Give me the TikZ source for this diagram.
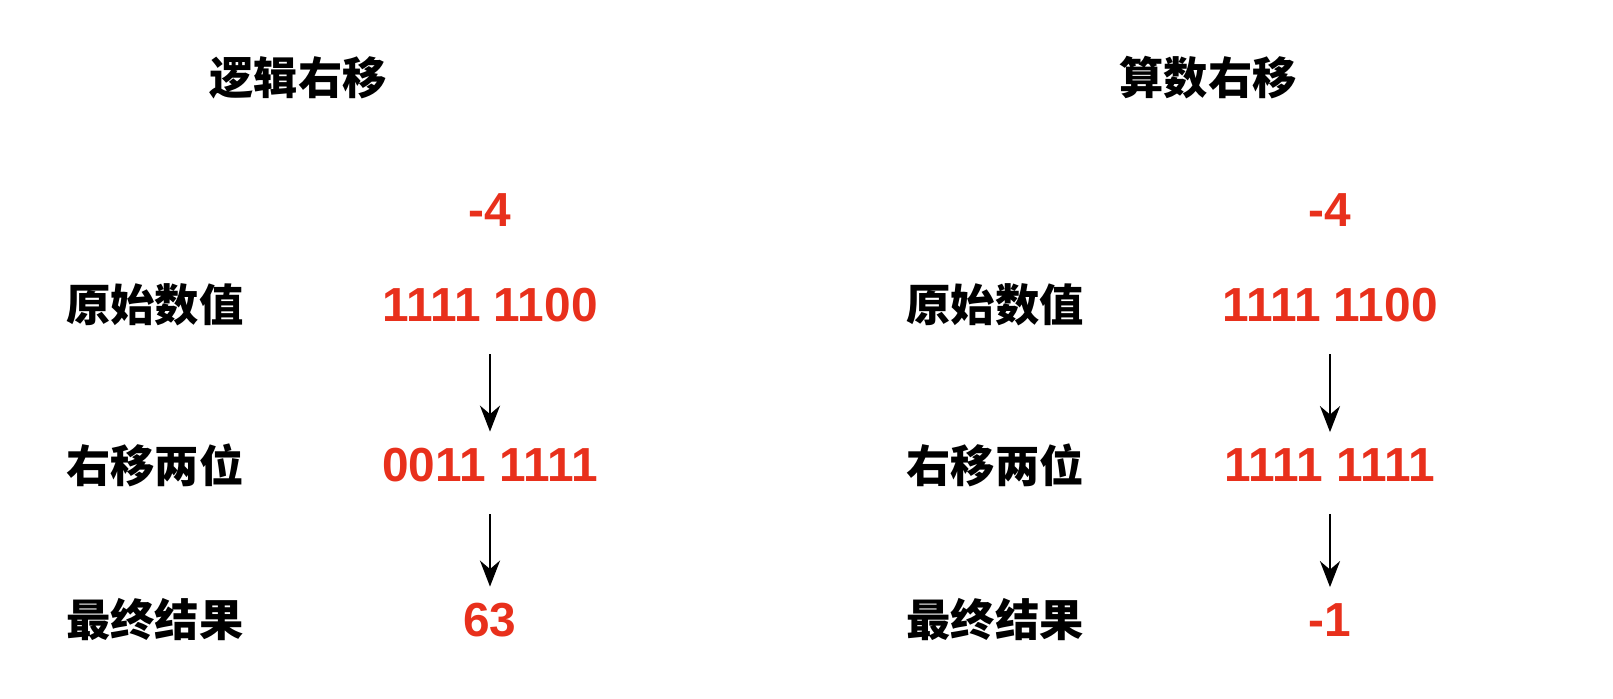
\documentclass[tikz,border=0pt]{standalone}
\usepackage{fontspec}
\setmainfont{Liberation Sans}
\newfontfamily\cjk{Noto Sans CJK SC}
\usetikzlibrary{positioning}
\usetikzlibrary{arrows.meta}
\definecolor{numred}{HTML}{E8301C}
\begin{document}
\begin{tikzpicture}[%
			rowlabel/.style={font=\cjk\bfseries\fontsize{12.6}{14}\selectfont},
			value/.style={font=\bfseries\fontsize{13.6}{15}\selectfont, text=numred},
			shiftarrow/.style={-{Stealth[length=2.6mm, width=2mm]}, line width=0.8pt, shorten <=0.2cm, shorten >=0.04cm}]
			\useasboundingbox (0,0) rectangle (16.13,6.99);
			% left: logical shift
			\node[rowlabel] (ltitle) at (2.98,6.21) {逻辑右移};
			\node[value] (lnum) at (4.9,4.89) {-4};
			\node[rowlabel] (lrow1) at (1.55,3.94) {原始数值};
			\node[rowlabel] (lrow2) at (1.55,2.34) {右移两位};
			\node[rowlabel] (lrow3) at (1.55,0.79) {最终结果};
			\node[value] (lval1) at (4.9,3.94) {1111 1100};
			\node[value] (lval2) at (4.9,2.34) {0011 1111};
			\node[value] (lval3) at (4.9,0.79) {63};
			\draw[shiftarrow] (lval1) -- (lval2);
			\draw[shiftarrow] (lval2) -- (lval3);
			% right: arithmetic shift
			\node[rowlabel] (rtitle) at (12.08,6.21) {算数右移};
			\node[value] (rnum) at (13.3,4.89) {-4};
			\node[rowlabel] (rrow1) at (9.95,3.94) {原始数值};
			\node[rowlabel] (rrow2) at (9.95,2.34) {右移两位};
			\node[rowlabel] (rrow3) at (9.95,0.79) {最终结果};
			\node[value] (rval1) at (13.3,3.94) {1111 1100};
			\node[value] (rval2) at (13.3,2.34) {1111 1111};
			\node[value] (rval3) at (13.3,0.79) {-1};
			\draw[shiftarrow] (rval1) -- (rval2);
			\draw[shiftarrow] (rval2) -- (rval3);
\end{tikzpicture}
\end{document}
